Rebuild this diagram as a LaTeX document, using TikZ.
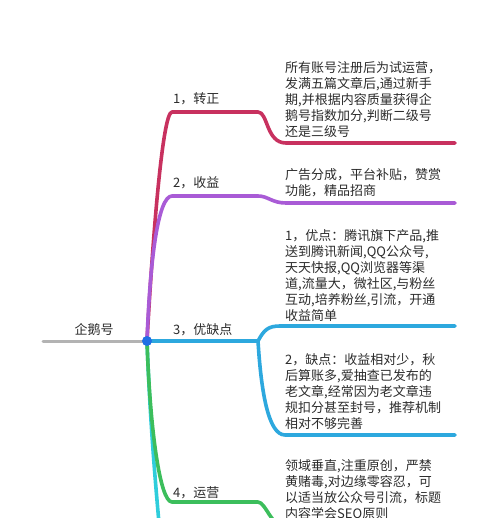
\documentclass[tikz,border=0pt]{standalone}
\usepackage{fontspec}
\setmainfont{Noto Sans CJK SC}
\usepackage{xcolor}
\definecolor{rootgray}{HTML}{B3B3B3}
\definecolor{hubblue}{HTML}{1F6FE5}
\definecolor{zzred}{HTML}{C8315F}
\definecolor{syviolet}{HTML}{A95BD6}
\definecolor{yqblue}{HTML}{2DA8DE}
\definecolor{yygreen}{HTML}{3CBE5C}
\definecolor{moreteal}{HTML}{2FCDDB}
\definecolor{txtgray}{HTML}{2B2B2B}

\begin{document}
\begin{tikzpicture}[
    x=1pt, y=-1pt,
    every node/.style={font=\fontsize{13}{16}\selectfont, text=txtgray},
    branch/.style={line width=3.6pt, line cap=round, line join=round},
    rootline/.style={line width=3pt, line cap=round, rootgray},
    hub/.style={circle, fill=hubblue, minimum size=10pt, inner sep=0pt},
    branchlabel/.style={anchor=base west, inner sep=0pt},
    leaf/.style={anchor=base west, inner sep=0pt, align=left},
  ]

  \useasboundingbox (0,0) rectangle (500,518);
  \clip (0,0) rectangle (500,518);

  % --- Centre ---
  \coordinate (centre) at (147,341);
  \coordinate (tail) at (43,341);
  \node[anchor=base] (roottxt) at (94,334) {企鹅号};

  % --- Branch labels ---
  \node[branchlabel] (lab1) at (173,104) {1，转正};
  \node[branchlabel] (lab2) at (173,188) {2，收益};
  \node[branchlabel] (lab3) at (173,334) {3，优缺点};
  \node[branchlabel] (lab4) at (173,497) {4，运营};

  % --- Leaf texts (placed by the baseline of their last line) ---
  \node[leaf] (leaf1) at (285,137)
    {所有账号注册后为试运营，\\发满五篇文章后,通过新手\\期,并根据内容质量获得企\\鹅号指数加分,判断二级号\\还是三级号};
  \node[leaf] (leaf2) at (285,196)
    {广告分成，平台补贴，赞赏\\功能，精品招商};
  \node[leaf] (leaf3) at (285,320)
    {1，优点：腾讯旗下产品,推\\送到腾讯新闻,QQ公众号,\\天天快报,QQ浏览器等渠\\道,流量大，微社区,与粉丝\\互动,培养粉丝,引流，开通\\收益简单};
  \node[leaf] (leaf4) at (285,428)
    {2，缺点：收益相对少，秋\\后算账多,爱抽查已发布的\\老文章,经常因为老文章违\\规扣分甚至封号，推荐机制\\相对不够完善};
  \node[leaf] (leaf5) at (285,518)
    {领域垂直,注重原创，严禁\\黄赌毒,对边缘零容忍，可\\以适当放公众号引流，标题\\内容学会SEO原则};

  % --- Bend points ---
  \coordinate (b1a) at (172,112); \coordinate (b1b) at (258,112);
  \coordinate (b1c) at (286,143); \coordinate (b1d) at (455,143);
  \coordinate (b2a) at (172,196); \coordinate (b2b) at (258,196);
  \coordinate (b2c) at (286,203); \coordinate (b2d) at (455,203);
  \coordinate (b3b) at (258,341);
  \coordinate (b3c) at (280,326); \coordinate (b3d) at (455,326);
  \coordinate (b3e) at (285,435); \coordinate (b3f) at (455,435);
  \coordinate (b4a) at (172,502); \coordinate (b4b) at (258,502);
  \coordinate (b4c) at (292,532);
  \coordinate (b5a) at (161,545);

  % --- Connectors ---
  \draw[rootline] (tail) -- (centre);
  \draw[branch, moreteal] (centre) .. controls (150,420) and (155,480) .. (b5a);
  \draw[branch, yygreen] (centre) .. controls (150,430) and (160,502) .. (b4a)
    -- (b4b) .. controls (266,502) and (272,530) .. (b4c);
  \draw[branch, zzred] (centre) .. controls (152,250) and (162,112) .. (b1a)
    -- (b1b) .. controls (268,112) and (266,143) .. (b1c) -- (b1d);
  \draw[branch, syviolet] (centre) .. controls (150,260) and (158,196) .. (b2a)
    -- (b2b) .. controls (268,196) and (272,203) .. (b2c) -- (b2d);
  \draw[branch, yqblue] (centre) -- (b3b)
    .. controls (264,330) and (268,326) .. (b3c) -- (b3d);
  \draw[branch, yqblue] (b3b) .. controls (261,390) and (268,435) .. (b3e) -- (b3f);

  \node[hub] (hubdot) at (centre) {};

\end{tikzpicture}
\end{document}
